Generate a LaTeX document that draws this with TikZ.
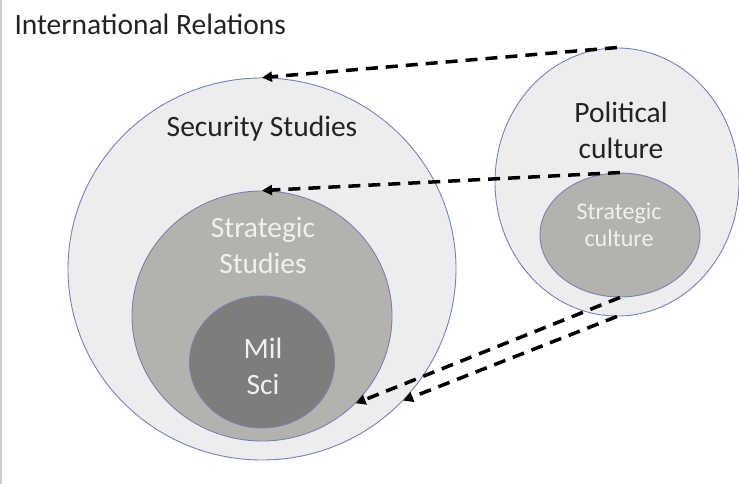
\documentclass[tikz,border=0pt]{standalone}
\usepackage{fontspec}
\setmainfont{Carlito}
\usetikzlibrary{arrows.meta,shapes.geometric}
\definecolor{pale}{RGB}{237,237,240}
\definecolor{midgray}{RGB}{180,178,174}
\definecolor{deepgray}{RGB}{126,125,123}
\definecolor{rim}{RGB}{120,130,175}
\definecolor{ink}{RGB}{35,35,35}
\definecolor{chalk}{RGB}{240,240,240}
\begin{document}
\begin{tikzpicture}[x=1pt,y=-1pt,
  blob/.style={ellipse,draw=rim,line width=0.9pt,inner sep=0pt},
  big/.style={font=\fontsize{29.5}{36}\selectfont,align=center},
  small/.style={font=\fontsize{24}{27}\selectfont,align=center},
  link/.style={line width=3.5pt,dash pattern=on 12pt off 8pt,-{Triangle[length=10pt,width=10pt]}}]
\useasboundingbox(0,0)rectangle(739,484);
\draw[line width=1.5pt,color=black!20](1,0)--(1,484);
\node[big,anchor=west,text=ink](ir)at(11,24){International Relations};
% left stack
\node[blob,fill=pale,minimum width=388pt,minimum height=382pt](sec)at(262,269){};
\node[blob,fill=midgray,minimum width=260pt,minimum height=250pt](str)at(262,316){};
\node[blob,fill=deepgray,minimum width=145pt,minimum height=132pt](mil)at(262,362){};
\node[big,text=ink](secl)at(262,129){Security Studies};
\node[big,text=chalk](strl)at(263,245){Strategic\\Studies};
\node[big,text=chalk](mill)at(263,366){Mil\\Sci};
% right pair
\node[blob,fill=pale,minimum width=244pt,minimum height=268pt](pol)at(617,182){};
\node[blob,fill=midgray,minimum width=160pt,minimum height=124pt](cul)at(620,235){};
\node[big,text=ink](poll)at(621,130){Political\\culture};
\node[small,text=chalk](cull)at(619,225){Strategic\\culture};
% links
\draw[link](pol.north)--(sec.north);
\draw[link](cul.north)--(str.north);
\draw[link](cul.south)--(str.-43);
\draw[link](pol.south)--(sec.-43.5);
\end{tikzpicture}
\end{document}
